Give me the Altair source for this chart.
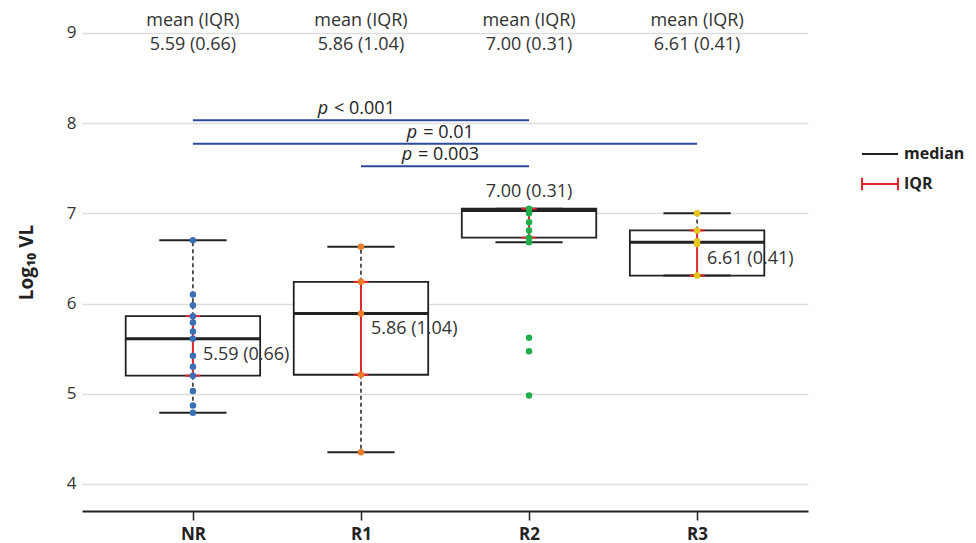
import altair as alt
import pandas as pd

# ---- data ----
cats = ["NR", "R1", "R2", "R3"]
pos = [1, 2, 3, 4]
q1 = [5.20, 5.21, 6.73, 6.31]
med = [5.61, 5.89, 7.03, 6.68]
q3 = [5.86, 6.24, 7.05, 6.81]
wlo = [4.79, 4.35, 6.68, 6.31]
whi = [6.70, 6.63, 7.05, 7.00]
mean_iqr = ["5.59 (0.66)", "5.86 (1.04)", "7.00 (0.31)", "6.61 (0.41)"]
label_y = [5.43, 5.72, 7.24, 6.49]
header_title = "mean (IQR)"
header_y_title = 9.13
header_y_value = 8.86

nr_vals = [6.70, 6.10, 5.98, 5.86, 5.79, 5.69, 5.61, 5.42, 5.30, 5.20, 5.03, 4.87, 4.79]
r1_vals = [6.63, 6.24, 5.89, 5.21, 4.35]
r2_vals = [7.05, 7.00, 6.90, 6.81, 6.73, 6.68, 5.62, 5.47, 4.98]
r3_vals = [7.00, 6.81, 6.69, 6.66, 6.31]
point_colors = ["#3b6fb6", "#ef7d27", "#1fae4b", "#e6c51a"]

sig_x1 = [1, 1, 2]
sig_x2 = [3, 4, 3]
sig_y = [8.03, 7.77, 7.52]
sig_rest = ["< 0.001", "= 0.01", "= 0.003"]

legend_items = ["median", "IQR"]

FONT = "Open Sans"
TXT = "#333333"
DARK = "#222222"
RED = "#e0262b"
BLUE = "#2b4a9b"
FS = 18

stats = pd.DataFrame({"cat": cats, "pos": pos, "q1": q1, "med": med, "q3": q3,
                      "wlo": wlo, "whi": whi, "lab": mean_iqr, "laby": label_y})
stats["xl"] = stats["pos"] - 0.4
stats["xr"] = stats["pos"] + 0.4
stats["cl"] = stats["pos"] - 0.2
stats["cr"] = stats["pos"] + 0.2
stats["il"] = stats["pos"] - 0.045
stats["ir"] = stats["pos"] + 0.045

rows = []
for c, p, vals in zip(cats, pos, [nr_vals, r1_vals, r2_vals, r3_vals]):
    for v in vals:
        rows.append({"cat": c, "pos": p, "val": v})
pts = pd.DataFrame(rows)

xscale = alt.Scale(domain=[0.34, 4.66], nice=False, zero=False)
yscale = alt.Scale(domain=[3.70, 9.22], nice=False, zero=False)

xaxis = alt.Axis(values=[1, 2, 3, 4], labelExpr="['', 'NR', 'R1', 'R2', 'R3'][datum.value]",
                 title=None, grid=False, domainColor=DARK, domainWidth=2,
                 tickColor=DARK, tickSize=9, tickWidth=1.5, labelPadding=6,
                 labelFont=FONT, labelFontSize=17, labelFontWeight="bold", labelColor=DARK)
yaxis = alt.Axis(values=[4, 5, 6, 7, 8, 9], format="d", title="Log₁₀ VL", grid=True,
                 gridColor="#dddddd", gridWidth=1.5, domain=False, ticks=False, labelPadding=6,
                 labelFont=FONT, labelFontSize=17, labelColor=TXT,
                 titleFont=FONT, titleFontSize=19, titleFontWeight="bold", titleColor=DARK,
                 titlePadding=30)

base = alt.Chart(stats)

box = base.mark_rect(fill="white", stroke=DARK, strokeWidth=1.8).encode(
    x=alt.X("xl:Q", scale=xscale, axis=xaxis), x2="xr:Q",
    y=alt.Y("q1:Q", scale=yscale, axis=yaxis), y2="q3:Q")

wh_up = base.mark_rule(color=DARK, strokeWidth=1.5, strokeDash=[4, 3]).encode(
    x="pos:Q", y="q3:Q", y2="whi:Q")
wh_lo = base.mark_rule(color=DARK, strokeWidth=1.5, strokeDash=[4, 3]).encode(
    x="pos:Q", y="q1:Q", y2="wlo:Q")
cap_up = base.mark_rule(color=DARK, strokeWidth=2).encode(x="cl:Q", x2="cr:Q", y="whi:Q")
cap_lo = base.mark_rule(color=DARK, strokeWidth=2).encode(x="cl:Q", x2="cr:Q", y="wlo:Q")
median = base.mark_rule(color=DARK, strokeWidth=3).encode(x="xl:Q", x2="xr:Q", y="med:Q")

iqr_v = base.mark_rule(color=RED, strokeWidth=2).encode(x="pos:Q", y="q1:Q", y2="q3:Q")
iqr_t = base.mark_rule(color=RED, strokeWidth=2).encode(x="il:Q", x2="ir:Q", y="q3:Q")
iqr_b = base.mark_rule(color=RED, strokeWidth=2).encode(x="il:Q", x2="ir:Q", y="q1:Q")

points = alt.Chart(pts).mark_circle(size=42, opacity=1).encode(
    x="pos:Q", y="val:Q",
    color=alt.Color("cat:N", scale=alt.Scale(domain=cats, range=point_colors), legend=None))

lab_left = base.transform_filter("datum.cat != 'R2'").mark_text(
    align="left", baseline="middle", dx=10, font=FONT, fontSize=FS, color=TXT).encode(
    x="pos:Q", y="laby:Q", text="lab:N")
lab_top = base.transform_filter("datum.cat == 'R2'").mark_text(
    align="center", baseline="middle", font=FONT, fontSize=FS, color=TXT).encode(
    x="pos:Q", y="laby:Q", text="lab:N")

hdr1 = base.transform_calculate(hy=str(header_y_title), ht="'" + header_title + "'").mark_text(
    align="center", baseline="middle", font=FONT, fontSize=FS, color=TXT).encode(
    x="pos:Q", y="hy:Q", text="ht:N")
hdr2 = base.transform_calculate(hy=str(header_y_value)).mark_text(
    align="center", baseline="middle", font=FONT, fontSize=FS, color=TXT).encode(
    x="pos:Q", y="hy:Q", text="lab:N")

sig = pd.DataFrame({"x1": sig_x1, "x2": sig_x2, "y": sig_y, "rest": sig_rest})
sig["mid"] = (sig["x1"] + sig["x2"]) / 2
sig_lines = alt.Chart(sig).mark_rule(color=BLUE, strokeWidth=2).encode(x="x1:Q", x2="x2:Q", y="y:Q")

sig_layers = []
fs = 18
p_w = 0.6 * fs
gap = 6
for i, r in enumerate(sig_rest):
    total = p_w + gap + 0.56 * fs * len(r)
    dx = -total / 2 + p_w
    sub = alt.Chart(sig).transform_filter(alt.FieldEqualPredicate(field="rest", equal=r))
    sig_layers.append(sub.transform_calculate(pp="'p'").mark_text(
        align="right", baseline="alphabetic", dx=dx, dy=-6, font=FONT, fontSize=fs,
        fontStyle="italic", color=DARK).encode(x="mid:Q", y="y:Q", text="pp:N"))
    sig_layers.append(sub.mark_text(
        align="left", baseline="alphabetic", dx=dx + gap, dy=-6, font=FONT, fontSize=fs,
        color=DARK).encode(x="mid:Q", y="y:Q", text="rest:N"))

leg_df = pd.DataFrame({"item": legend_items})
leg_common = dict(title=None, orient="none", legendX=788, legendY=131,
                  symbolSize=324, symbolStrokeWidth=2, labelFont=FONT, labelFontSize=16,
                  labelFontWeight="bold", labelColor=DARK, labelOffset=14, rowPadding=11,
                  symbolOpacity=1)
legend_layer = alt.Chart(leg_df).transform_filter("false").mark_point(filled=False).encode(
    shape=alt.Shape("item:N", scale=alt.Scale(domain=legend_items,
                    range=["M-2,0H2", "M-2,0H2M-2,-0.7V0.7M2,-0.7V0.7"]),
                    legend=alt.Legend(**leg_common)),
    stroke=alt.Stroke("item:N", scale=alt.Scale(domain=legend_items, range=[DARK, RED]),
                      legend=alt.Legend(**leg_common)))

chart = alt.layer(
    box, wh_up, wh_lo, cap_up, cap_lo, median, iqr_v, iqr_t, iqr_b, points,
    lab_left, lab_top, hdr1, hdr2, sig_lines, *sig_layers, legend_layer
).resolve_scale(color="independent").properties(
    width=726, height=498,
    autosize=alt.AutoSizeParams(type="none"),
    padding={"left": 74, "top": 5, "right": 160, "bottom": 32},
    background="white"
).configure_view(stroke=None)

chart.save("out.html", embed_options={"renderer": "svg", "actions": False})
